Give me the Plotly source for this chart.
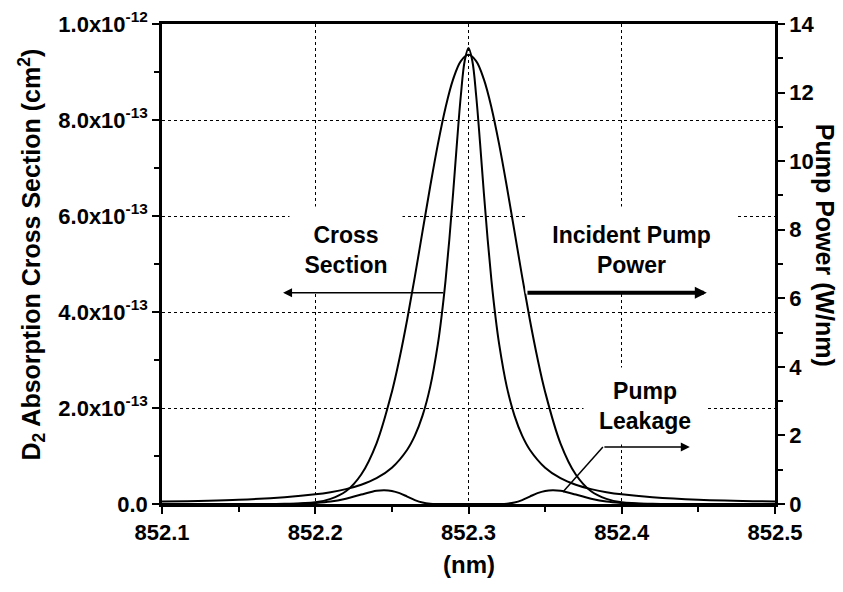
import plotly.graph_objects as go

# wavelength grid (nm) and values
xs_cross = [852.10, 852.15, 852.18, 852.20, 852.21, 852.22, 852.23, 852.24, 852.25, 852.26,
            852.265, 852.27, 852.275, 852.28, 852.2825, 852.285, 852.2875, 852.29, 852.2925,
            852.295, 852.2975, 852.30, 852.3025, 852.305, 852.3075, 852.31, 852.3125, 852.315,
            852.3175, 852.32, 852.325, 852.33, 852.335, 852.34, 852.35, 852.36, 852.37, 852.38,
            852.39, 852.40, 852.42, 852.45, 852.50]
cross_section = [0.051e-13, 0.090e-13, 0.141e-13, 0.201e-13, 0.247e-13, 0.310e-13, 0.401e-13,
                 0.538e-13, 0.756e-13, 1.131e-13, 1.424e-13, 1.84e-13, 2.44e-13, 3.33e-13,
                 3.93e-13, 4.65e-13, 5.51e-13, 6.49e-13, 7.54e-13, 8.51e-13, 9.23e-13, 9.50e-13,
                 9.23e-13, 8.51e-13, 7.54e-13, 6.49e-13, 5.51e-13, 4.65e-13, 3.93e-13, 3.33e-13,
                 2.44e-13, 1.84e-13, 1.424e-13, 1.131e-13, 0.756e-13, 0.538e-13, 0.401e-13,
                 0.310e-13, 0.247e-13, 0.201e-13, 0.141e-13, 0.090e-13, 0.051e-13]

xs_pump = [852.10, 852.15, 852.18, 852.20, 852.21, 852.22, 852.23, 852.24, 852.25, 852.255,
           852.26, 852.265, 852.27, 852.275, 852.28, 852.285, 852.29, 852.295, 852.30, 852.305,
           852.31, 852.315, 852.32, 852.325, 852.33, 852.335, 852.34, 852.345, 852.35, 852.36,
           852.37, 852.38, 852.39, 852.40, 852.42, 852.45, 852.50]
pump_power = [0.0, 0.0, 0.004, 0.05, 0.15, 0.37, 0.86, 1.77, 3.27, 4.25, 5.38, 6.63, 7.95, 9.26,
              10.49, 11.56, 12.39, 12.92, 13.10, 12.92, 12.39, 11.56, 10.49, 9.26, 7.95, 6.63,
              5.38, 4.25, 3.27, 1.77, 0.86, 0.37, 0.15, 0.05, 0.004, 0.0, 0.0]

xs_leak = [852.10, 852.18, 852.19, 852.20, 852.21, 852.22, 852.23, 852.24, 852.245, 852.25,
           852.255, 852.26, 852.265, 852.27, 852.275, 852.28, 852.30, 852.32, 852.325, 852.33,
           852.335, 852.34, 852.345, 852.35, 852.355, 852.36, 852.37, 852.38, 852.39, 852.40,
           852.41, 852.42, 852.50]
pump_leakage = [0.0, 0.003, 0.01, 0.03, 0.07, 0.155, 0.275, 0.384, 0.40, 0.38, 0.316, 0.217,
                0.115, 0.043, 0.009, 0.0, 0.0, 0.0, 0.009, 0.043, 0.115, 0.217, 0.316, 0.38,
                0.40, 0.384, 0.275, 0.155, 0.07, 0.03, 0.01, 0.003, 0.0]

left_ticks = [0, 2e-13, 4e-13, 6e-13, 8e-13, 1e-12]
left_labels = ['0.0', '2.0x10<sup>-13</sup>', '4.0x10<sup>-13</sup>', '6.0x10<sup>-13</sup>',
               '8.0x10<sup>-13</sup>', '1.0x10<sup>-12</sup>']

FONT = 'Arial, Liberation Sans, sans-serif'
line = dict(color='black', width=2)
tick_style = dict(ticks='outside', ticklen=7, tickwidth=2, tickcolor='black')
minor_style = dict(ticks='outside', ticklen=5, tickwidth=2, tickcolor='black')

fig = go.Figure()
fig.add_trace(go.Scatter(x=xs_cross, y=cross_section, mode='lines', line=dict(shape='spline', **line),
                         showlegend=False, yaxis='y'))
fig.add_trace(go.Scatter(x=xs_pump, y=pump_power, mode='lines', line=dict(shape='spline', **line),
                         showlegend=False, yaxis='y2'))
fig.add_trace(go.Scatter(x=xs_leak, y=pump_leakage, mode='lines', line=dict(shape='spline', **line),
                         showlegend=False, yaxis='y2'))

fig.update_layout(
    width=843, height=592,
    margin=dict(l=162, r=68, t=24, b=88),
    plot_bgcolor='white', paper_bgcolor='white',
    font=dict(family=FONT, size=22, color='black', weight='bold'),
    xaxis=dict(
        range=[852.1, 852.5], tickvals=[852.1, 852.2, 852.3, 852.4, 852.5], tickformat='.1f',
        showline=True, linecolor='black', linewidth=2.5, mirror=True, automargin=False,
        minor=dict(dtick=0.05, tick0=852.1, **minor_style), **tick_style,
        showgrid=True, gridcolor='black', gridwidth=1, griddash='dot', zeroline=False,
    ),
    yaxis=dict(
        range=[0, 1e-12], tickvals=left_ticks, ticktext=left_labels,
        showline=True, linecolor='black', linewidth=2.5, automargin=False,
        minor=dict(dtick=1e-13, tick0=0, **minor_style), **tick_style,
        showgrid=True, gridcolor='black', gridwidth=1, griddash='dot', zeroline=False,
    ),
    yaxis2=dict(
        range=[0, 14], tickvals=[0, 2, 4, 6, 8, 10, 12, 14], overlaying='y', side='right',
        showline=True, linecolor='black', linewidth=2.5, automargin=False,
        minor=dict(dtick=1, tick0=0, **minor_style), **tick_style,
        showgrid=False, zeroline=False,
    ),
)

# text boxes (white background hides the grid behind them)
fig.add_annotation(x=852.22, y=5.29e-13, xref='x', yref='y', text='Cross<br>Section',
                   showarrow=False, bgcolor='white', width=110, height=84, font=dict(size=23))
fig.add_annotation(x=852.4066, y=5.29e-13, xref='x', yref='y', text='Incident Pump<br>Power',
                   showarrow=False, bgcolor='white', width=209, height=84, font=dict(size=23))
fig.add_annotation(x=852.415, y=2.04e-13, xref='x', yref='y', text='Pump<br>Leakage',
                   showarrow=False, bgcolor='white', width=120, height=74, font=dict(size=23))

# arrows
fig.add_annotation(x=852.179, y=4.4e-13, ax=852.2845, ay=4.4e-13, xref='x', yref='y',
                   axref='x', ayref='y', text='', showarrow=True, arrowhead=2, arrowsize=1.2,
                   arrowwidth=1.5, arrowcolor='black')
fig.add_annotation(x=852.4555, y=4.4e-13, ax=852.3375, ay=4.4e-13, xref='x', yref='y',
                   axref='x', ayref='y', text='', showarrow=True, arrowhead=2, arrowsize=0.6,
                   arrowwidth=4, arrowcolor='black')
fig.add_shape(type='line', x0=852.3616, y0=0.35, x1=852.3877, y1=1.66, xref='x', yref='y2',
              line=dict(color='black', width=1.5))
fig.add_annotation(x=852.4444, y=1.66, ax=852.3877, ay=1.66, xref='x', yref='y2',
                   axref='x', ayref='y2', text='', showarrow=True, arrowhead=2, arrowsize=1.2,
                   arrowwidth=1.5, arrowcolor='black')

# axis titles
fig.add_annotation(x=-0.212, y=0.52, xref='paper', yref='paper', xanchor='center', yanchor='middle',
                   text='D<sub>2</sub> Absorption Cross Section (cm<sup>2</sup>)',
                   textangle=-90, showarrow=False, font=dict(size=25))
fig.add_annotation(x=1.0816, y=0.54, xref='paper', yref='paper', xanchor='center', yanchor='middle',
                   text='Pump Power (W/nm)', textangle=90, showarrow=False, font=dict(size=25))
fig.add_annotation(x=0.5, y=-0.127, xref='paper', yref='paper', xanchor='center', yanchor='middle',
                   text='(nm)', showarrow=False, font=dict(size=24))

fig.write_html('out.html', config={'displayModeBar': False},
               post_script="document.body.style.margin='0';")
